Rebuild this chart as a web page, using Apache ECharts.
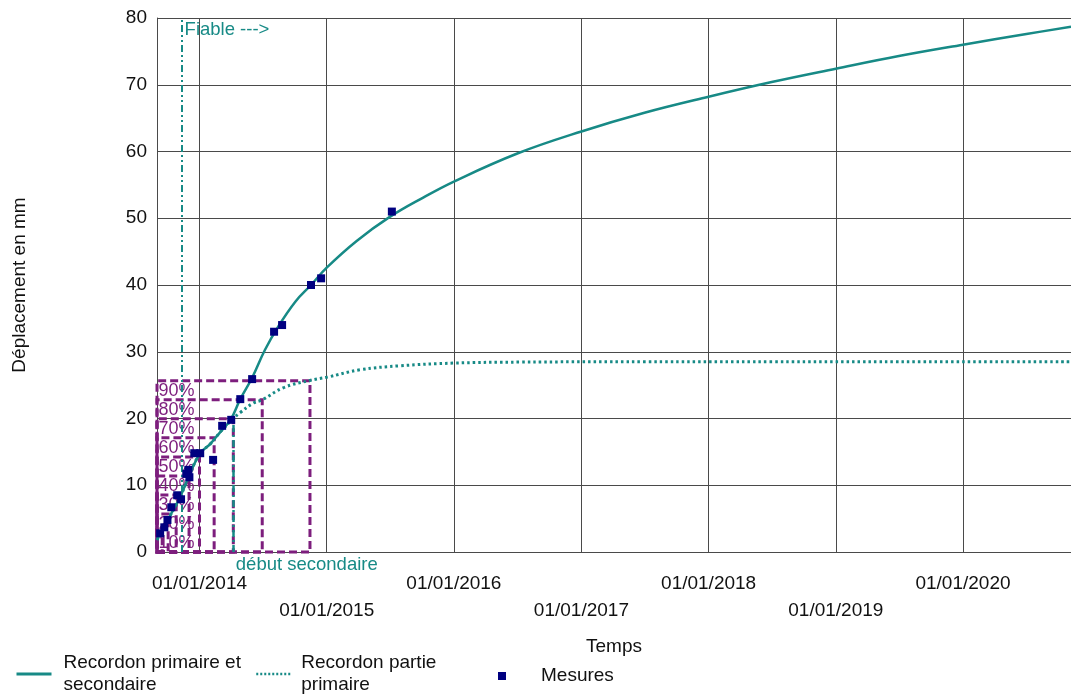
<!DOCTYPE html>
<html><head><meta charset="utf-8">
<script src="https://cdn.jsdelivr.net/npm/echarts@6/dist/echarts.min.js"></script>
<style>html,body{margin:0;padding:0;background:#fff}#c{width:1071px;height:694px}</style>
</head><body><div id="c"></div>
<script>
// ---- data ----
const xMinDate = '2013-09-01';
const xMaxDate = '2020-11-06';
const xTickDates = ['2014-01-01','2015-01-01','2016-01-01','2017-01-01','2018-01-01','2019-01-01','2020-01-01'];
const yMin = 0, yMax = 80, yInterval = 10;

const mainDates = ['2013-09-01','2013-10-09','2013-11-06','2013-12-05','2014-01-03','2014-02-01','2014-03-02','2014-03-31','2014-04-28','2014-06-01','2014-07-08','2014-08-14','2014-10-03','2014-11-17','2015-01-01','2015-03-28','2015-07-01','2015-10-05','2016-01-01','2016-07-01','2017-01-01','2017-07-01','2018-01-01','2018-07-01','2019-01-01','2019-07-01','2020-01-01','2020-07-01','2020-11-06'];
const mainValues = [1.8,5.5,8.2,11.8,14.8,16.2,18.0,19.8,22.9,26.1,30.3,33.7,37.5,40.0,42.6,46.6,50.2,53.1,55.5,59.7,63.0,65.8,68.2,70.4,72.4,74.3,76.0,77.6,78.7];

const primaryDates = ['2013-09-01','2013-10-09','2013-11-06','2013-12-05','2014-01-03','2014-02-01','2014-03-02','2014-04-08','2014-04-28','2014-06-04','2014-06-30','2014-08-29','2014-11-14','2015-01-03','2015-04-07','2015-07-31','2016-01-01','2016-07-09','2017-07-01','2018-07-01','2019-07-01','2020-11-06'];
const primaryValues = [1.8,5.5,8.2,11.8,14.8,16.2,18.0,20.0,20.9,22.3,22.8,24.6,25.7,26.2,27.3,27.9,28.3,28.45,28.5,28.5,28.5,28.5];

const measureDates = ['2013-09-10','2013-09-22','2013-10-01','2013-10-12','2013-10-29','2013-11-09','2013-11-24','2013-12-03','2013-11-30','2013-12-17','2014-01-03','2014-02-09','2014-03-07','2014-04-02','2014-04-28','2014-06-01','2014-08-03','2014-08-26','2014-11-17','2014-12-16','2015-07-07'];
const measureValues = [2.8,3.7,4.8,6.7,8.5,7.9,11.7,11.2,12.3,14.8,14.8,13.8,18.9,19.8,22.9,25.9,33.0,34.0,40.0,41.0,51.0];

const pctLabels = ['10%','20%','30%','40%','50%','60%','70%','80%','90%'];
const pctValues = [2.85,5.7,8.55,11.4,14.25,17.1,19.95,22.8,25.65];
const pctDates = ['2013-09-16','2013-10-03','2013-10-26','2013-12-02','2014-01-01','2014-02-12','2014-04-08','2014-06-30','2014-11-14'];

const fiableDate = '2013-11-12';
const fiableLabel = 'Fiable --->';
const debutDate = '2014-04-08';
const debutValue = 19.95;
const debutLabel = 'début secondaire';

const seriesNames = ['Recordon primaire et\nsecondaire', 'Recordon partie\nprimaire', 'Mesures'];
const xName = 'Temps';
const yName = 'Déplacement en mm';

// ---- helpers ----
const toMs = s => { const p = s.split('-').map(Number); return Date.UTC(p[0], p[1]-1, p[2]); };
const pad = n => (n < 10 ? '0' : '') + n;
const fmt = ms => { const d = new Date(ms); return pad(d.getUTCDate()) + '/' + pad(d.getUTCMonth()+1) + '/' + d.getUTCFullYear(); };
const zip = (ds, vs) => ds.map((d, i) => [toMs(d), vs[i]]);

const TEAL = '#178a86';
const PURPLE = '#7d1e7d';
const FONT = "'Liberation Sans', Arial, sans-serif";
const xMin = toMs(xMinDate), xMax = toMs(xMaxDate);

const boxes = pctLabels.map((l, i) => [
  { name: l, coord: [xMin, 0] },
  { coord: [toMs(pctDates[i]), pctValues[i]] }
]);

const legendText = { fontSize: 19, lineHeight: 22, color: '#111', fontFamily: FONT };

const chart = echarts.init(document.getElementById('c'), null, { renderer: 'canvas' });
chart.setOption({
  animation: false,
  backgroundColor: '#fff',
  textStyle: { fontFamily: FONT },
  grid: { left: 157, right: 0, top: 18, bottom: 142 },
  legend: [
    { data: [seriesNames[0]], left: 15, top: 652, itemWidth: 35, itemHeight: 12, padding: 0,
      itemStyle: { opacity: 0 }, lineStyle: { width: 3 },
      textStyle: Object.assign({ padding: [0,0,0,7] }, legendText) },
    { data: [seriesNames[1]], left: 255, top: 652, itemWidth: 35, itemHeight: 12, padding: 0,
      itemStyle: { opacity: 0 }, lineStyle: { width: 2.5, type: [2, 2] },
      textStyle: Object.assign({ padding: [0,0,0,5] }, legendText) },
    { data: [seriesNames[2]], left: 498, top: 665, itemWidth: 8, itemHeight: 8, padding: 0,
      textStyle: Object.assign({ padding: [0,0,0,30] }, legendText) }
  ],
  xAxis: {
    type: 'value', min: xMin, max: xMax,
    name: xName, nameLocation: 'middle', nameGap: 85,
    nameTextStyle: { fontSize: 19, color: '#111', fontFamily: FONT },
    axisLine: { show: true, lineStyle: { color: '#4a4a4a', width: 1 } },
    axisTick: { show: false, customValues: xTickDates.map(toMs) },
    axisLabel: {
      customValues: xTickDates.map(toMs), margin: 18,
      fontSize: 19, lineHeight: 27, color: '#111', fontFamily: FONT,
      formatter: v => { const y = new Date(v).getUTCFullYear(); return (y % 2 ? '\n' : '') + fmt(v); }
    },
    splitLine: { show: true, lineStyle: { color: '#4a4a4a', width: 1 } }
  },
  yAxis: {
    type: 'value', min: yMin, max: yMax, interval: yInterval,
    name: yName, nameLocation: 'middle', nameGap: 128,
    nameTextStyle: { fontSize: 19, color: '#111', fontFamily: FONT },
    axisLine: { show: true, lineStyle: { color: '#4a4a4a', width: 1 } },
    axisTick: { show: false },
    axisLabel: { fontSize: 19, color: '#111', margin: 10, fontFamily: FONT },
    splitLine: { show: true, lineStyle: { color: '#4a4a4a', width: 1 } }
  },
  series: [
    {
      name: '__annot', type: 'line', data: [], symbol: 'none', silent: true, z: 2,
      markArea: {
        silent: true,
        itemStyle: { color: 'rgba(0,0,0,0)', borderColor: PURPLE, borderWidth: 3, borderType: [8, 4] },
        label: { show: true, position: 'insideTopLeft', distance: 3, color: PURPLE, fontSize: 18, fontFamily: FONT },
        data: boxes
      },
      markLine: {
        silent: true, symbol: ['none', 'none'], label: { show: false },
        data: [
          [{ coord: [toMs(fiableDate), yMin], lineStyle: { color: TEAL, width: 2, type: [7,3,2,3,2,3] } },
           { coord: [toMs(fiableDate), yMax] }],
          [{ coord: [toMs(debutDate), yMin], lineStyle: { color: TEAL, width: 2.5, type: [7,3,2,3] } },
           { coord: [toMs(debutDate), debutValue] }]
        ]
      },
      markPoint: {
        silent: true, symbol: 'circle', symbolSize: 1, itemStyle: { color: 'rgba(0,0,0,0)' },
        data: [
          { coord: [toMs(fiableDate), yMax], label: { show: true, formatter: fiableLabel, position: [3, 3], color: TEAL, fontSize: 18.5, fontFamily: FONT } },
          { coord: [toMs(debutDate), yMin], label: { show: true, formatter: debutLabel, position: [3, 4], color: TEAL, fontSize: 18.5, fontFamily: FONT } }
        ]
      }
    },
    {
      name: seriesNames[1], type: 'line', data: zip(primaryDates, primaryValues),
      smooth: 0.4, symbol: 'none', z: 3,
      itemStyle: { color: TEAL },
      lineStyle: { color: TEAL, width: 3, type: [2.5, 3] }
    },
    {
      name: seriesNames[0], type: 'line', data: zip(mainDates, mainValues),
      smooth: 0.4, symbol: 'none', z: 4,
      itemStyle: { color: TEAL },
      lineStyle: { color: TEAL, width: 2.5 }
    },
    {
      name: seriesNames[2], type: 'scatter', data: zip(measureDates, measureValues),
      symbol: 'rect', symbolSize: 8, z: 5,
      itemStyle: { color: '#000080', opacity: 1 }
    }
  ]
});
</script>
</body></html>
